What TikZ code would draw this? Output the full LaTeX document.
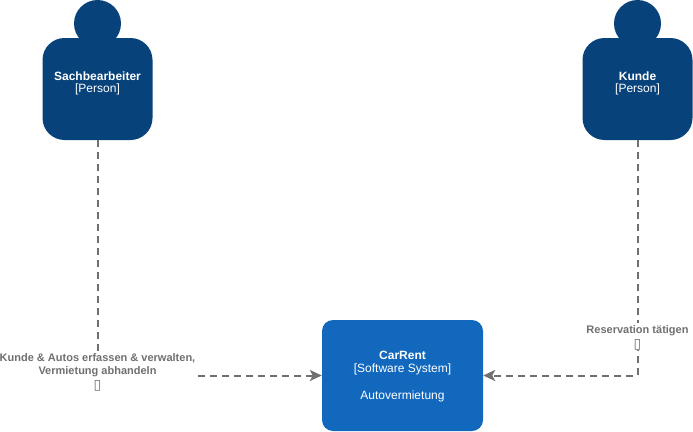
\documentclass[tikz,border=0pt]{standalone}
\usepackage{fontspec}
\setmainfont{Liberation Sans}
\newfontfamily\symfont{DejaVu Sans}
\usetikzlibrary{arrows.meta}
\definecolor{personblue}{HTML}{08427B}
\definecolor{systemblue}{HTML}{1168BD}
\definecolor{linegray}{HTML}{707070}
\newcommand{\tofu}{{\symfont\fontsize{14}{13}\selectfont\smash{\raisebox{-1pt}{▯}}}}
\tikzset{
  x=1pt,y=-1pt,
  personbody/.style={fill=personblue,rounded corners=22pt,minimum width=110pt,minimum height=102pt,inner sep=0pt,anchor=center},
  personhead/.style={circle,fill=personblue,minimum size=47pt,inner sep=0pt},
  systembox/.style={fill=systemblue,rounded corners=11pt,minimum width=161pt,minimum height=111pt,inner sep=0pt},
  boxtitle/.style={text=white,font=\fontsize{12}{13}\selectfont\bfseries,inner sep=0pt},
  boxtext/.style={text=white,font=\fontsize{12}{13}\selectfont,inner sep=0pt},
  flow/.style={draw=linegray,line width=2pt,dash pattern=on 7pt off 5pt,-{Stealth[length=12pt,width=11pt,inset=3pt,fill=linegray]}},
  flowlabel/.style={fill=white,text=linegray,align=center,font=\fontsize{11}{13}\selectfont\bfseries,inner sep=0pt,minimum height=#1},
  flowlabel/.default=39pt
}
\begin{document}
\begin{tikzpicture}
\useasboundingbox (0,0) rectangle (693,431);
\node[personhead] (headA) at (97.5,23.5) {};
\node[personbody] (bodyA) at (97.5,89) {};
\node[boxtitle] (titleA) at (97.5,76) {Sachbearbeiter};
\node[boxtext] (typeA) at (97.5,89.5) {[Person]};
\node[personhead] (headB) at (637.5,23.5) {};
\node[personbody] (bodyB) at (637.5,89) {};
\node[boxtitle] (titleB) at (637.5,76) {Kunde};
\node[boxtext] (typeB) at (637.5,89.5) {[Person]};
\node[systembox] (sys) at (402.5,375.5) {};
\node[boxtitle] (titleS) at (402.5,355) {CarRent};
\node[boxtext] (typeS) at (402.5,369) {[Software System]};
\node[boxtext] (descS) at (402.5,396.5) {Autovermietung};
\draw[flow] (bodyA.south) |- (sys.west);
\draw[flow] (bodyB.south) |- (sys.east);
\node[flowlabel=40pt] (labelA) at (97.5,371) {Kunde \& Autos erfassen \& verwalten,\\Vermietung abhandeln\\[1.5pt]\tofu};
\node[flowlabel=27pt] (labelB) at (637.5,336.5) {Reservation tätigen\\[0.5pt]\tofu};
\end{tikzpicture}
\end{document}
